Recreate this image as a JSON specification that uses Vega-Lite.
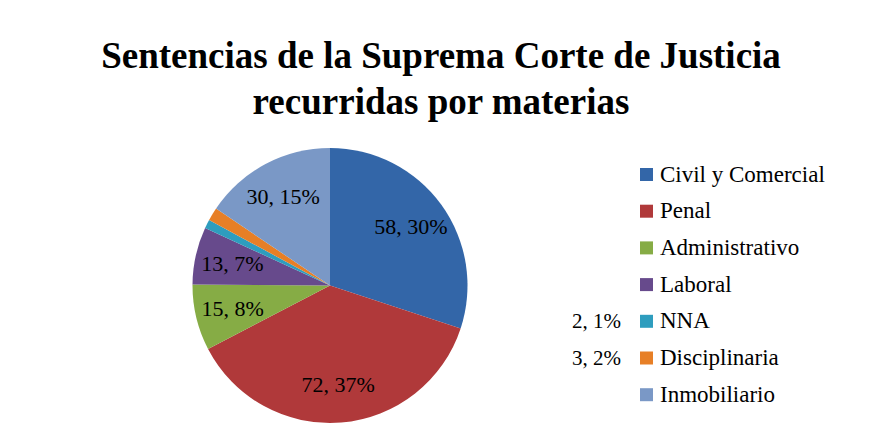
{
  "$schema": "https://vega.github.io/schema/vega-lite/v6.json",
  "width": 660,
  "height": 275,
  "autosize": {"type": "none"},
  "padding": {"left": 0, "top": 148, "right": 211, "bottom": 16},
  "background": "white",
  "title": {
    "text": ["Sentencias de la Suprema Corte de Justicia", "recurridas por materias"],
    "font": "Liberation Serif",
    "fontSize": 37,
    "fontWeight": "bold",
    "color": "black",
    "lineHeight": 46,
    "anchor": "middle",
    "dx": 111,
    "offset": 26
  },
  "data": {
    "values": [
      {"materia": "Civil y Comercial", "value": 58, "pct": 30},
      {"materia": "Penal", "value": 72, "pct": 37},
      {"materia": "Administrativo", "value": 15, "pct": 8},
      {"materia": "Laboral", "value": 13, "pct": 7},
      {"materia": "NNA", "value": 2, "pct": 1},
      {"materia": "Disciplinaria", "value": 3, "pct": 2},
      {"materia": "Inmobiliario", "value": 30, "pct": 15}
    ]
  },
  "transform": [
    {"window": [{"op": "row_number", "as": "idx"}]},
    {"calculate": "datum.value + ', ' + datum.pct + '%'", "as": "label"}
  ],
  "encoding": {
    "theta": {"field": "value", "type": "quantitative", "stack": true},
    "order": {"field": "idx", "type": "quantitative"}
  },
  "layer": [
    {
      "mark": {"type": "arc", "strokeWidth": 0},
      "encoding": {
        "color": {
          "field": "materia",
          "type": "nominal",
          "sort": null,
          "scale": {
            "domain": ["Civil y Comercial", "Penal", "Administrativo", "Laboral", "NNA", "Disciplinaria", "Inmobiliario"],
            "range": ["#3366A8", "#B0393A", "#86AC45", "#674A8C", "#2E9DBE", "#E77F26", "#7A98C6"]
          },
          "legend": {
            "orient": "none",
            "legendX": 635,
            "legendY": 15,
            "title": null,
            "symbolType": "square",
            "symbolSize": 169,
            "symbolStrokeWidth": 0,
            "labelFont": "Liberation Serif",
            "labelFontSize": 23,
            "labelColor": "black",
            "labelOffset": 2,
            "labelLimit": 300,
            "rowPadding": 12.7,
            "padding": 0
          }
        }
      }
    },
    {
      "mark": {"type": "text", "radius": 100, "font": "Liberation Serif", "fontSize": 22, "color": "black"},
      "encoding": {
        "text": {"condition": {"test": "datum.value < 5", "value": ""}, "field": "label", "type": "nominal"}
      }
    },
    {
      "transform": [{"filter": "datum.value < 5"}],
      "mark": {"type": "text", "opacity": 0},
      "encoding": {
        "text": {"value": ""},
        "stroke": {
          "field": "label",
          "type": "nominal",
          "scale": {"range": ["black", "black"]},
          "legend": {
            "orient": "none",
            "legendX": 549,
            "legendY": 163,
            "title": null,
            "symbolType": "square",
            "symbolSize": 1,
            "symbolOpacity": 0,
            "labelFont": "Liberation Serif",
            "labelFontSize": 21,
            "labelColor": "black",
            "labelOffset": 2,
            "rowPadding": 15.5,
            "padding": 0
          }
        }
      }
    }
  ]
}
